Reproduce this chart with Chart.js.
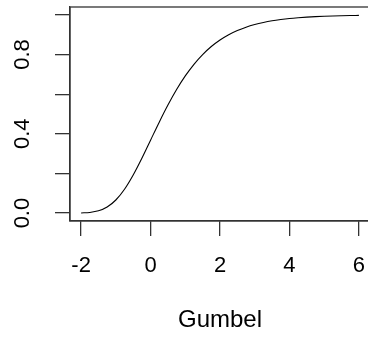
<!DOCTYPE html>
<html><head><meta charset="utf-8">
<script src="https://cdn.jsdelivr.net/npm/chart.js@4/dist/chart.umd.min.js"></script>
<style>html,body{margin:0;padding:0;background:#fff;overflow:hidden}#wrap{width:370px;height:338px}</style>
</head><body><div id="wrap"><canvas id="c" width="370" height="338"></canvas></div>
<script>
const xValues = [-2,-1.75,-1.5,-1.25,-1,-0.75,-0.5,-0.25,0,0.25,0.5,0.75,1,1.25,1.5,1.75,2,2.25,2.5,2.75,3,3.25,3.5,3.75,4,4.25,4.5,4.75,5,5.25,5.5,5.75,6];
const cdfValues = [0.0006,0.0032,0.0113,0.0305,0.0660,0.1204,0.1923,0.2769,0.3679,0.4589,0.5452,0.6235,0.6922,0.7509,0.8000,0.8405,0.8734,0.9000,0.9212,0.9381,0.9514,0.9619,0.9703,0.9767,0.9819,0.9858,0.9890,0.9914,0.9933,0.9948,0.9959,0.9968,0.9975];
const xTicks = [-2,0,2,4,6];
const yTicks = [0,0.2,0.4,0.6,0.8,1.0];
const yTickLabels = ['0.0','','0.4','','0.8',''];
const xTitle = 'Gumbel';

const FONT = "'Liberation Sans', Arial, sans-serif";
const AXC = '#333';

const boxPlugin = {
  id: 'box',
  afterDraw(chart) {
    const {ctx, chartArea: a} = chart;
    ctx.save();
    ctx.strokeStyle = AXC;
    ctx.lineWidth = 1.3;
    ctx.strokeRect(a.left, a.top, a.right - a.left, a.bottom - a.top);
    ctx.restore();
  }
};

new Chart(document.getElementById('c'), {
  type: 'line',
  data: {
    datasets: [{
      data: xValues.map((x, i) => ({x: x, y: cdfValues[i]})),
      borderColor: '#000',
      borderWidth: 1.1,
      pointRadius: 0,
      fill: false,
      cubicInterpolationMode: 'monotone'
    }]
  },
  options: {
    responsive: false,
    animation: false,
    devicePixelRatio: 1,
    layout: {padding: {top: 7, right: 0, bottom: 0, left: 0}},
    plugins: {legend: {display: false}, tooltip: {enabled: false}},
    scales: {
      x: {
        type: 'linear',
        min: -2.32, max: 6.32,
        afterBuildTicks: s => { s.ticks = xTicks.map(v => ({value: v})); },
        afterFit: s => { s.height = 117; s.paddingLeft = 0; s.paddingRight = 0; },
        grid: {drawOnChartArea: false, drawTicks: true, tickLength: 15, color: AXC, lineWidth: 1.3},
        border: {display: true, color: AXC, width: 1.3},
        ticks: {autoSkip: false, maxRotation: 0, padding: 17, color: '#000', font: {family: FONT, size: 22},
          callback: v => String(v)},
        title: {display: true, text: xTitle, color: '#000', font: {family: FONT, size: 24}, padding: {top: 0, bottom: 3}}
      },
      y: {
        type: 'linear',
        min: -0.04, max: 1.04,
        afterBuildTicks: s => { s.ticks = yTicks.map(v => ({value: v})); },
        afterFit: s => { s.width = 70; s.paddingTop = 0; s.paddingBottom = 0; },
        grid: {drawOnChartArea: false, drawTicks: true, tickLength: 15, color: AXC, lineWidth: 1.3},
        border: {display: true, color: AXC, width: 1.3},
        ticks: {autoSkip: false, minRotation: 90, maxRotation: 90, crossAlign: 'center', padding: 17, color: '#000',
          font: {family: FONT, size: 22},
          callback: (v, i) => yTickLabels[i]}
      }
    }
  },
  plugins: [boxPlugin]
});
</script>
</body></html>
